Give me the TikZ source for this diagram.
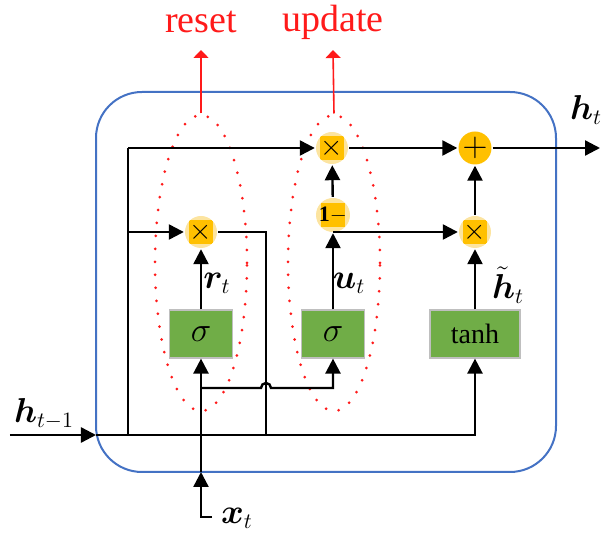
\documentclass[tikz,border=0pt]{standalone}
\usepackage{amsmath, bm}
\usepackage{fontspec}
\setmainfont{Liberation Serif}
\usetikzlibrary{arrows.meta, shapes.geometric}

\definecolor{gold}{HTML}{FFC000}
\definecolor{paleGold}{HTML}{FCE4A0}
\definecolor{boxGreen}{HTML}{70AD47}
\definecolor{cellBlue}{HTML}{4472C4}
\definecolor{groupRed}{HTML}{FF1A1A}

\tikzset{
  gatebox/.style={draw=black!25, fill=boxGreen, line width=0.6pt, minimum width=31.5pt, minimum height=24pt, inner sep=0pt, font=\fontsize{17}{18}\selectfont},
  mult/.style={circle, fill=paleGold, minimum size=16pt, inner sep=0pt, font=\fontsize{15}{15}\selectfont,
    path picture={\fill[gold] ([shift={(-6pt,-6pt)}]path picture bounding box.center) rectangle ++(12pt,12pt);}},
  addc/.style={circle, fill=gold, minimum size=15pt, inner sep=0pt, font=\fontsize{16}{16}\selectfont},
  group/.style={ellipse, draw=groupRed, line width=1.5pt, line cap=round, dash pattern=on 0pt off 6.5pt, minimum width=46pt, minimum height=148pt},
  lbl/.style={inner sep=1pt, font=\fontsize{16}{17}\selectfont},
  redlbl/.style={text=groupRed, font=\fontsize{19}{20}\selectfont},
}

\begin{document}
\begin{tikzpicture}[x=0.5pt, y=-0.5pt, line width=1.2pt, >={Triangle[length=7.5pt,width=7.5pt]}]
\useasboundingbox (0,0) rectangle (607,534);

% cell border
\draw[cellBlue, line width=1pt, rounded corners=23pt] (96,92) rectangle (556,472);

% gates
\node[gatebox] (sigr) at (201,334) {$\sigma$};
\node[gatebox] (sigu) at (333,334) {$\sigma$};
\node[gatebox, minimum width=45pt, font=\fontsize{14}{16}\selectfont] (tanh) at (475,334) {tanh};
\node[mult] (mulr) at (201,232) {$\times$};
\node[mult] (mulu) at (332,148) {$\times$};
\node[mult] (mulh) at (475,232) {$\times$};
\node[mult, minimum size=17pt, font=\fontsize{11}{12}\selectfont] (onem) at (333,215) {\textbf{1}$-$};
\node[addc] (add) at (475,148) {$+$};

% groups
\node[group] (resetgrp) at (201,263) {};
\node[group] (updategrp) at (334,263) {};
\node[redlbl] (resetlbl) at (201,22) {reset};
\node[redlbl] (updatelbl) at (333,22) {update};
\draw[groupRed, line width=0.8pt, -{Triangle[length=4pt,width=7.5pt]}] (resetgrp.north) -- (201,50);
\draw[groupRed, line width=0.8pt, -{Triangle[length=4pt,width=7.5pt]}] (updategrp.north) -- (333,50);

% junctions
\coordinate (hin) at (10,435);
\coordinate (hb) at (96,435);
\coordinate (ja) at (128,435);
\coordinate (jb) at (266,435);
\coordinate (jc) at (475,435);
\coordinate (ta) at (128,148);
\coordinate (tb) at (128,232);
\coordinate (rc) at (266,232);
\coordinate (ub) at (333,232);
\coordinate (hout) at (600,148);
\coordinate (xend) at (212,517);
\coordinate (xc) at (201,517);
\coordinate (xb) at (201,472);
\coordinate (xs) at (201,388);
\coordinate (us) at (333,388);

% labels
\node[lbl] (hprev) at (44,414) {$\boldsymbol{h}_{t-1}$};
\node[lbl] (hnext) at (586,110) {$\boldsymbol{h}_{t}$};
\node[lbl] (xlbl) at (237,518) {$\boldsymbol{x}_{t}$};
\node[lbl] (rlbl) at (217,283) {$\boldsymbol{r}_{t}$};
\node[lbl] (ulbl) at (349,283) {$\boldsymbol{u}_{t}$};
\node[lbl] (hcand) at (508,285) {$\tilde{\boldsymbol{h}}_{t}$};

% connections
\draw[->] (hin) -- (hb);
\draw[->] (hb) -- (jc) -- (tanh);
\draw (ja) -- (ta);
\draw[->] (ta) -- (mulu);
\draw[->] (tb) -- (mulr);
\draw (mulr) -- (rc) -- (jb);
\draw[->] (xend) -- (xc) -- (xb);
\draw[->] (xb) -- (sigr);
\draw[->] (xs) -- (261,388) arc (180:360:5) -- (us) -- (sigu);
\draw[->] (sigr) -- (mulr);
\draw[->] (sigu) -- (onem);
\draw[->] (onem) -- (mulu);
\draw[->] (ub) -- (mulh);
\draw[->] (tanh) -- (mulh);
\draw[->] (mulh) -- (add);
\draw[->] (mulu) -- (add);
\draw[->] (add) -- (hout);

\end{tikzpicture}
\end{document}
